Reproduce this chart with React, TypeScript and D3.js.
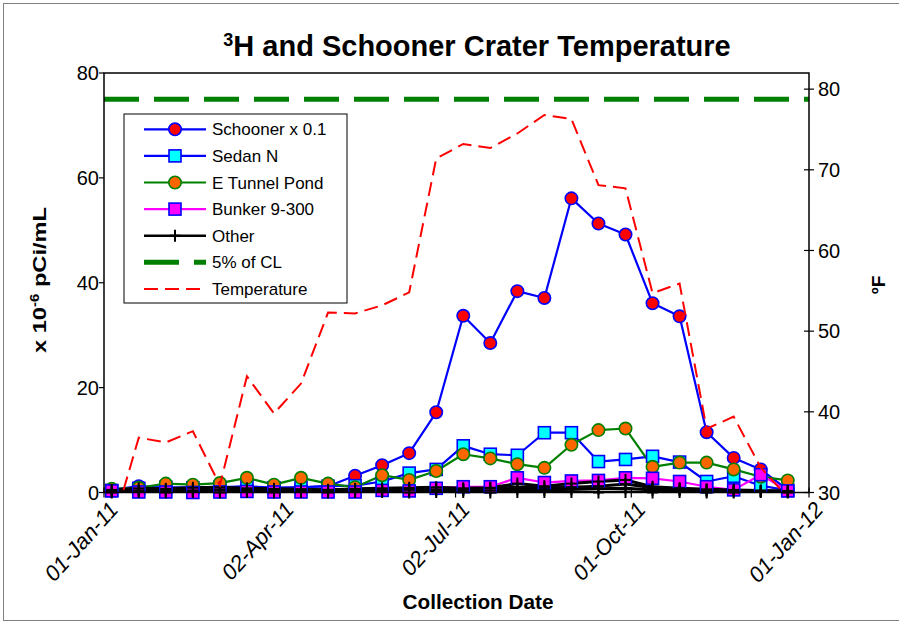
import React from "react";
import * as d3 from "d3";

// ---------- data ----------
const dates = [
  "2011-01-05", "2011-01-19", "2011-02-02", "2011-02-16", "2011-03-02", "2011-03-16",
  "2011-03-30", "2011-04-13", "2011-04-27", "2011-05-11", "2011-05-25", "2011-06-08",
  "2011-06-22", "2011-07-06", "2011-07-20", "2011-08-03", "2011-08-17", "2011-08-31",
  "2011-09-14", "2011-09-28", "2011-10-12", "2011-10-26", "2011-11-09", "2011-11-23",
  "2011-12-07", "2011-12-21",
];
const schooner = [0.5, 1.2, 0.9, 1.0, 1.1, 1.0, 0.9, 1.0, 1.2, 3.2, 5.2, 7.5, 15.3, 33.7, 28.5, 38.4, 37.1, 56.1, 51.3, 49.2, 36.1, 33.6, 11.5, 6.6, 4.4, 0.5];
const sedanN = [0.4, 0.8, 1.0, 0.9, 1.0, 1.2, 0.9, 1.0, 1.2, 1.3, 2.1, 3.7, 4.4, 8.9, 7.3, 7.1, 11.4, 11.4, 5.9, 6.3, 6.9, 5.8, 2.1, 3.1, 1.3, 0.4];
const eTunnel = [0.7, 0.9, 1.7, 1.5, 1.8, 2.8, 1.5, 2.8, 1.7, 1.0, 3.3, 2.4, 4.1, 7.3, 6.5, 5.4, 4.7, 9.1, 11.9, 12.2, 4.9, 5.7, 5.7, 4.4, 3.0, 2.3];
const bunker = [0.3, 0.1, 0.1, 0.0, 0.1, 0.2, 0.1, 0.1, 0.1, 0.1, 0.4, 0.3, 0.8, 1.1, 1.1, 2.8, 1.9, 2.2, 2.3, 2.8, 2.7, 2.1, 1.1, 0.5, 3.4, 0.3];
const otherA = [0.0, 0.1, 0.0, 0.1, 0.0, 0.1, 0.0, 0.1, 0.0, 0.1, 0.1, 0.0, 0.1, 0.1, 0.0, 0.1, 0.1, 0.1, 0.0, 0.1, 0.0, 0.1, 0.0, 0.0, 0.1, 0.0];
const otherB = [0.3, 0.4, 0.5, 0.4, 0.6, 0.5, 0.5, 0.6, 0.5, 0.7, 0.8, 0.9, 1.0, 0.8, 0.9, 1.7, 1.2, 1.7, 2.1, 2.4, 1.1, 0.8, 0.6, 0.5, 0.4, 0.3];
const otherC = [0.5, 0.8, 0.7, 0.9, 1.0, 0.8, 0.7, 0.6, 0.5, 0.6, 0.5, 0.7, 0.6, 0.6, 0.8, 1.0, 0.9, 1.0, 1.2, 1.6, 0.9, 0.7, 0.5, 0.4, 0.3, 0.2];
const otherD = [0.2, 0.3, 0.2, 0.3, 0.4, 0.3, 0.2, 0.3, 0.3, 0.4, 0.3, 0.5, 0.4, 0.5, 0.4, 0.6, 0.5, 0.6, 0.7, 0.8, 0.5, 0.4, 0.3, 0.2, 0.2, 0.1];
const temperature = [25.3, 36.8, 36.2, 37.6, 30.9, 44.4, 39.8, 43.5, 52.3, 52.2, 53.2, 54.8, 71.4, 73.2, 72.7, 74.5, 76.8, 76.3, 68.1, 67.7, 54.7, 55.9, 37.9, 39.4, 33.1, 29.4];
const clLimit = 75;

const xDomain = ["2011-01-01", "2012-01-01"];
const xTickDates = ["2011-01-01", "2011-04-02", "2011-07-02", "2011-10-01", "2012-01-01"];
const xTickLabels = ["01-Jan-11", "02-Apr-11", "02-Jul-11", "01-Oct-11", "01-Jan-12"];
const leftDomain = [0, 80];
const leftTicks = [0, 20, 40, 60, 80];
const rightDomain = [30, 82];
const rightTicks = [30, 40, 50, 60, 70, 80];

const legendLabels = ["Schooner x 0.1", "Sedan N", "E Tunnel Pond", "Bunker 9-300", "Other", "5% of CL", "Temperature"];

// ---------- layout ----------
const W = 899;
const H = 623;
const P = { left: 104, right: 809, top: 73, bottom: 492.5 };
const FONT = "'Liberation Sans', Arial, sans-serif";

type MarkerKind = "circle" | "square" | "plus" | "none";
interface Series {
  values: number[];
  stroke: string;
  width: number;
  marker: MarkerKind;
  fill: string;
  mstroke: string;
}

function Marker({ kind, cx, cy, fill, stroke }: { kind: MarkerKind; cx: number; cy: number; fill: string; stroke: string }) {
  if (kind === "circle") return <circle cx={cx} cy={cy} r={6.2} fill={fill} stroke={stroke} strokeWidth={1.6} />;
  if (kind === "square") return <rect x={cx - 6} y={cy - 6} width={12} height={12} fill={fill} stroke={stroke} strokeWidth={1.6} />;
  if (kind === "plus")
    return (
      <g stroke={stroke} strokeWidth={2}>
        <line x1={cx - 5.5} x2={cx + 5.5} y1={cy} y2={cy} />
        <line x1={cx} x2={cx} y1={cy - 6} y2={cy + 6} />
      </g>
    );
  return null;
}

export default function App() {
  const parse = d3.timeParse("%Y-%m-%d");
  const xd = dates.map((d) => parse(d) as Date);
  const x = d3.scaleTime().domain([parse(xDomain[0]) as Date, parse(xDomain[1]) as Date]).range([P.left, P.right]);
  const yL = d3.scaleLinear().domain(leftDomain).range([P.bottom, P.top]);
  const yR = d3.scaleLinear().domain(rightDomain).range([P.bottom, P.top]);

  const series: Series[] = [
    { values: schooner, stroke: "#0000FF", width: 2.2, marker: "circle", fill: "#FF0000", mstroke: "#0000FF" },
    { values: sedanN, stroke: "#0000FF", width: 2.2, marker: "square", fill: "#00FFFF", mstroke: "#0000FF" },
    { values: eTunnel, stroke: "#008000", width: 2.2, marker: "circle", fill: "#FF6600", mstroke: "#008000" },
    { values: bunker, stroke: "#FF00FF", width: 2.2, marker: "square", fill: "#FF00FF", mstroke: "#0000FF" },
    { values: otherA, stroke: "#000000", width: 3, marker: "plus", fill: "#000", mstroke: "#000" },
    { values: otherB, stroke: "#000000", width: 3, marker: "plus", fill: "#000", mstroke: "#000" },
    { values: otherC, stroke: "#000000", width: 3, marker: "plus", fill: "#000", mstroke: "#000" },
    { values: otherD, stroke: "#000000", width: 3, marker: "plus", fill: "#000", mstroke: "#000" },
  ];

  const lineL = (vals: number[]) =>
    d3.line<number>().x((_, i) => x(xd[i])).y((d) => yL(d))(vals) || "";
  const tempPath = d3.line<number>().x((_, i) => x(xd[i])).y((d) => yR(d))(temperature) || "";

  const legendStyles = [
    { stroke: "#0000FF", width: 2.2, dash: "", marker: "circle" as MarkerKind, fill: "#FF0000", mstroke: "#0000FF" },
    { stroke: "#0000FF", width: 2.2, dash: "", marker: "square" as MarkerKind, fill: "#00FFFF", mstroke: "#0000FF" },
    { stroke: "#008000", width: 2.2, dash: "", marker: "circle" as MarkerKind, fill: "#FF6600", mstroke: "#008000" },
    { stroke: "#FF00FF", width: 2.2, dash: "", marker: "square" as MarkerKind, fill: "#FF00FF", mstroke: "#0000FF" },
    { stroke: "#000000", width: 2.5, dash: "", marker: "plus" as MarkerKind, fill: "#000", mstroke: "#000" },
    { stroke: "#008000", width: 5, dash: "35,15", marker: "none" as MarkerKind, fill: "", mstroke: "" },
    { stroke: "#FF0000", width: 2, dash: "14,7", marker: "none" as MarkerKind, fill: "", mstroke: "" },
  ];
  const LG = { x: 124, y: 114, w: 223, h: 189, row0: 129.3, step: 26.6 };

  return (
    <svg width={W} height={H} style={{ position: "absolute", left: 0, top: 0, background: "#fff" }} fontFamily={FONT}>
      <defs>
        <clipPath id="plotClip">
          <rect x={P.left} y={P.top} width={P.right - P.left} height={P.bottom - P.top} />
        </clipPath>
      </defs>
      <rect x={0} y={0} width={W} height={H} fill="#fff" />
      <rect x={3.5} y={3.5} width={W - 3} height={H - 6} fill="none" stroke="#808080" strokeWidth={1} />

      {/* title */}
      <text x={477} y={56} textAnchor="middle" fontSize={29} fontWeight="bold">
        <tspan fontSize={18} dy={-10}>3</tspan>
        <tspan dy={10}>H and Schooner Crater Temperature</tspan>
      </text>

      {/* CL line */}
      <line x1={P.left} x2={P.right} y1={yL(clLimit)} y2={yL(clLimit)} stroke="#008000" strokeWidth={5} strokeDasharray="35,15" />

      {/* series */}
      <g clipPath="url(#plotClip)">
        {series.map((s, k) => (
          <g key={k}>
            <path d={lineL(s.values)} fill="none" stroke={s.stroke} strokeWidth={s.width} strokeLinejoin="round" />
          </g>
        ))}
      </g>
      {series.map((s, k) => (
        <g key={"m" + k}>
          {s.values.map((v, i) => (
            <Marker key={i} kind={s.marker} cx={x(xd[i])} cy={yL(v)} fill={s.fill} stroke={s.mstroke} />
          ))}
        </g>
      ))}
      <g clipPath="url(#plotClip)">
        <path d={tempPath} fill="none" stroke="#FF0000" strokeWidth={2} strokeDasharray="14,7" />
      </g>

      {/* frame */}
      <rect x={P.left} y={P.top} width={P.right - P.left} height={P.bottom - P.top} fill="none" stroke="#000" strokeWidth={1.5} />

      {/* left axis */}
      {leftTicks.map((t) => (
        <g key={"l" + t}>
          <line x1={P.left - 5} x2={P.left} y1={yL(t)} y2={yL(t)} stroke="#000" strokeWidth={1.2} />
          <text x={99} y={yL(t)} dy="0.36em" textAnchor="end" fontSize={20}>{t}</text>
        </g>
      ))}
      {/* right axis */}
      {rightTicks.map((t) => (
        <g key={"r" + t}>
          <line x1={P.right - 5} x2={P.right + 5} y1={yR(t)} y2={yR(t)} stroke="#000" strokeWidth={1.2} />
          <text x={818} y={yR(t)} dy="0.36em" textAnchor="start" fontSize={20}>{t}</text>
        </g>
      ))}
      {/* x axis */}
      {xTickDates.map((d, i) => {
        const tx = x(parse(d) as Date);
        return (
          <g key={"x" + i}>
            <line x1={tx} x2={tx} y1={P.bottom - 5} y2={P.bottom + 5} stroke="#000" strokeWidth={1.2} />
            <text transform={`translate(${tx + 9},${P.bottom + 12}) rotate(-48)`} textAnchor="end" fontSize={22} fontStyle="italic" dy="0.4em">
              {xTickLabels[i]}
            </text>
          </g>
        );
      })}

      {/* axis titles */}
      <text x={478} y={609} textAnchor="middle" fontSize={20} fontWeight="bold" textLength={151} lengthAdjust="spacingAndGlyphs">Collection Date</text>
      <text transform="translate(46,280) rotate(-90)" textAnchor="middle" fontSize={19} fontWeight="bold" textLength={146} lengthAdjust="spacingAndGlyphs">
        <tspan>x 10</tspan>
        <tspan fontSize={12} dy={-7}>-6</tspan>
        <tspan dy={7}> pCi/mL</tspan>
      </text>
      <text transform="translate(885,285) rotate(-90)" textAnchor="middle" fontSize={19} fontWeight="bold">ºF</text>

      {/* legend */}
      <rect x={LG.x} y={LG.y} width={LG.w} height={LG.h} fill="#fff" stroke="#000" strokeWidth={1} />
      {legendLabels.map((lab, i) => {
        const st = legendStyles[i];
        const cy = LG.row0 + i * LG.step;
        return (
          <g key={"lg" + i}>
            <line x1={144} x2={206} y1={cy} y2={cy} stroke={st.stroke} strokeWidth={st.width} strokeDasharray={st.dash || undefined} />
            <Marker kind={st.marker} cx={175} cy={cy} fill={st.fill} stroke={st.mstroke} />
            <text x={212} y={cy} dy="0.36em" fontSize={17}>{lab}</text>
          </g>
        );
      })}
    </svg>
  );
}
